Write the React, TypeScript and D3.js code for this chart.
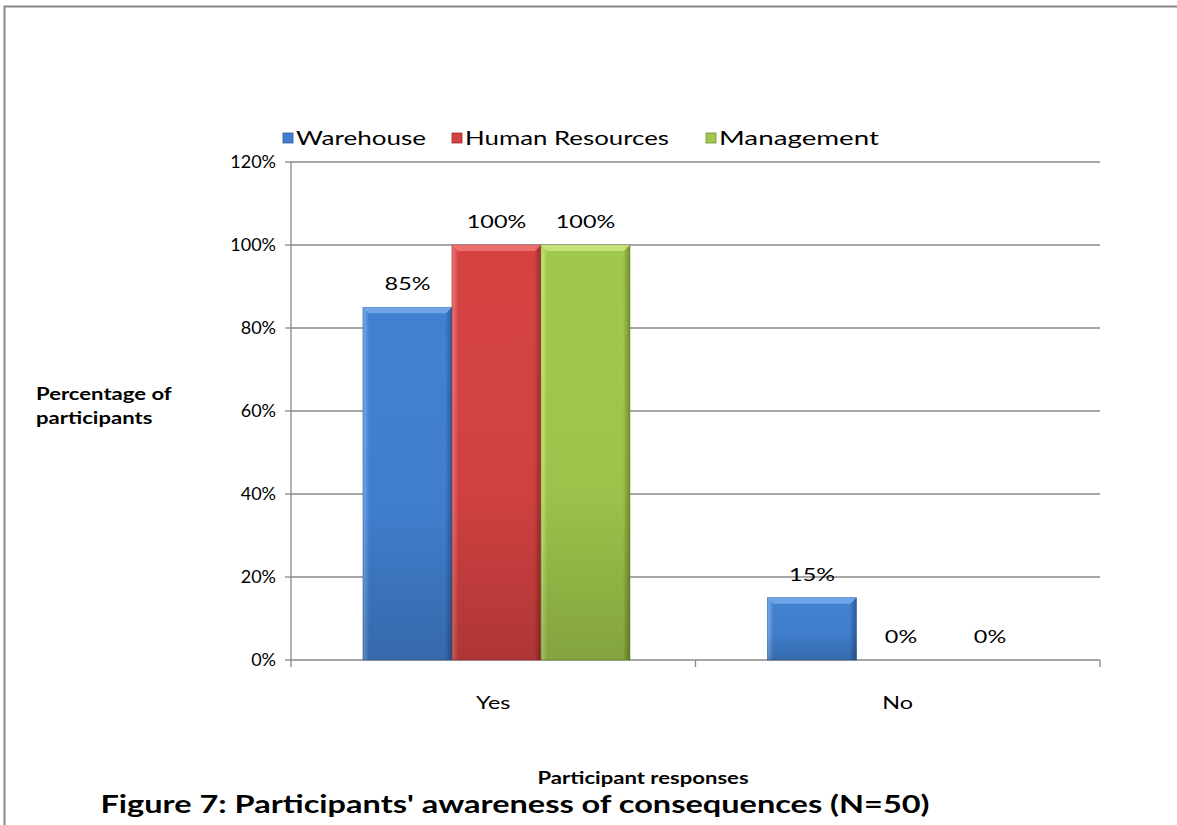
import React from "react";
import * as d3 from "d3";

const categories = ["Yes", "No"];
const seriesNames = ["Warehouse", "Human Resources", "Management"];
const warehouse = [0.85, 0.15];
const humanResources = [1.0, 0.0];
const management = [1.0, 0.0];
const seriesValues = [warehouse, humanResources, management];
const yTicks = [0, 0.2, 0.4, 0.6, 0.8, 1.0, 1.2];

const colors = [
  { main: "#4180d0", light: "#78abec", dark: "#2a5a9c" },
  { main: "#d54242", light: "#ee7777", dark: "#9a2a28" },
  { main: "#a0c84c", light: "#cbe684", dark: "#6f8f2c" },
];

const W = 1177;
const H = 825;
const FONT = "Lato, 'Open Sans', sans-serif";

// horizontal stretch factor observed in the reference text
const SX = 1.3;

export default function App() {
  const left = 291, right = 1100, top = 162, bottom = 660;
  const y = d3.scaleLinear().domain([0, 1.2]).range([bottom, top]);
  const x0 = d3.scaleBand().domain(categories).range([left, right]).paddingInner(0).paddingOuter(0);
  const groupW = x0.bandwidth();
  const x1 = d3
    .scaleBand()
    .domain(seriesNames)
    .range([groupW * 0.178, groupW * 0.838]);
  const legendX = [283, 452, 706];
  const legendW = [130, 204, 160];
  const pct = d3.format(".0%");

  const stretched = (cx: number, cy: number, content: React.ReactNode, props: any = {}) => (
    <g transform={`translate(${cx},${cy}) scale(${SX},1)`}>
      <text x={0} y={0} fontFamily={FONT} fill="#000" {...props}>
        {content}
      </text>
    </g>
  );

  return (
    <svg width={W} height={H} style={{ position: "absolute", left: 0, top: 0, background: "#fff" }}>
      <defs>
        {colors.map((c, i) => (
          <linearGradient key={i} id={`g${i}`} x1="0" y1="0" x2="1" y2="0">
            <stop offset="0" stopColor={c.light} />
            <stop offset="0.07" stopColor={c.main} />
            <stop offset="0.92" stopColor={c.main} />
            <stop offset="1" stopColor={c.dark} />
          </linearGradient>
        ))}
        <linearGradient id="vshade" x1="0" y1="0" x2="0" y2="1">
          <stop offset="0" stopColor="#fff" stopOpacity="0" />
          <stop offset="0.6" stopColor="#000" stopOpacity="0.03" />
          <stop offset="1" stopColor="#000" stopOpacity="0.18" />
        </linearGradient>
      </defs>
      {/* border */}
      <path d={`M4.5,${H} L4.5,6.5 L${W},6.5`} fill="none" stroke="#888" strokeWidth={2} />

      {/* legend */}
      {seriesNames.map((s, i) => (
        <g key={s} transform={`translate(${legendX[i]},138)`}>
          <rect x={0} y={-5} width={10} height={10} fill={colors[i].main} stroke={colors[i].dark} strokeWidth={0.8} />
          <text
            x={13}
            y={7}
            fontFamily={FONT}
            fontSize={20}
            fill="#000"
            textLength={legendW[i]}
            lengthAdjust="spacingAndGlyphs"
          >
            {s}
          </text>
        </g>
      ))}

      {/* gridlines */}
      {yTicks.map((t) => (
        <line key={t} x1={left} x2={right} y1={y(t)} y2={y(t)} stroke="#888" strokeWidth={1.3} />
      ))}
      {/* y axis */}
      <line x1={left} x2={left} y1={top} y2={bottom} stroke="#888" strokeWidth={1.3} />
      {yTicks.map((t) => (
        <g key={"t" + t}>
          <line x1={left - 6} x2={left} y1={y(t)} y2={y(t)} stroke="#888" strokeWidth={1.3} />
          <text x={left - 15} y={y(t) + 6} textAnchor="end" fontFamily={FONT} fontSize={18} fill="#000">
            {pct(t)}
          </text>
        </g>
      ))}
      {/* x axis ticks */}
      {[left, left + groupW, right].map((xx, i) => (
        <line key={"x" + i} x1={xx} x2={xx} y1={bottom} y2={bottom + 7} stroke="#888" strokeWidth={1.3} />
      ))}

      {/* bars */}
      {categories.map((c, ci) =>
        seriesNames.map((s, si) => {
          const v = seriesValues[si][ci];
          const bx = (x0(c) as number) + (x1(s) as number);
          const bw = x1.bandwidth();
          const by = y(v);
          const bh = bottom - by;
          const bev = Math.min(6, bh / 2);
          return (
            <g key={c + s}>
              {bh > 0 && (
                <>
                  <rect x={bx} y={by} width={bw} height={bh} fill={`url(#g${si})`} stroke={colors[si].dark} strokeWidth={0.6} />
                  <rect x={bx} y={by} width={bw} height={bh} fill="url(#vshade)" />
                  <polygon
                    points={`${bx},${by} ${bx + bw},${by} ${bx + bw - bev},${by + bev} ${bx + bev},${by + bev}`}
                    fill={colors[si].light}
                    opacity={0.85}
                  />
                </>
              )}
              {stretched(bx + bw / 2, by - 17, pct(v), { textAnchor: "middle", fontSize: 18 })}
            </g>
          );
        })
      )}

      {/* category labels */}
      {categories.map((c) => (
        <g key={"c" + c}>
          {stretched((x0(c) as number) + groupW / 2, 709, c, { textAnchor: "middle", fontSize: 18 })}
        </g>
      ))}

      {/* axis titles */}
      <g transform={`translate(36,0) scale(${SX},1)`}>
        <text fontFamily={FONT} fontSize={17} fontWeight="bold" fill="#000">
          <tspan x={0} y={400}>Percentage of</tspan>
          <tspan x={0} y={424}>participants</tspan>
        </text>
      </g>
      {stretched(643, 784, "Participant responses", { textAnchor: "middle", fontSize: 17, fontWeight: "bold" })}
      {stretched(515, 813, "Figure 7: Participants' awareness of consequences (N=50)", {
        textAnchor: "middle",
        fontSize: 25,
        fontWeight: "bold",
      })}
    </svg>
  );
}
